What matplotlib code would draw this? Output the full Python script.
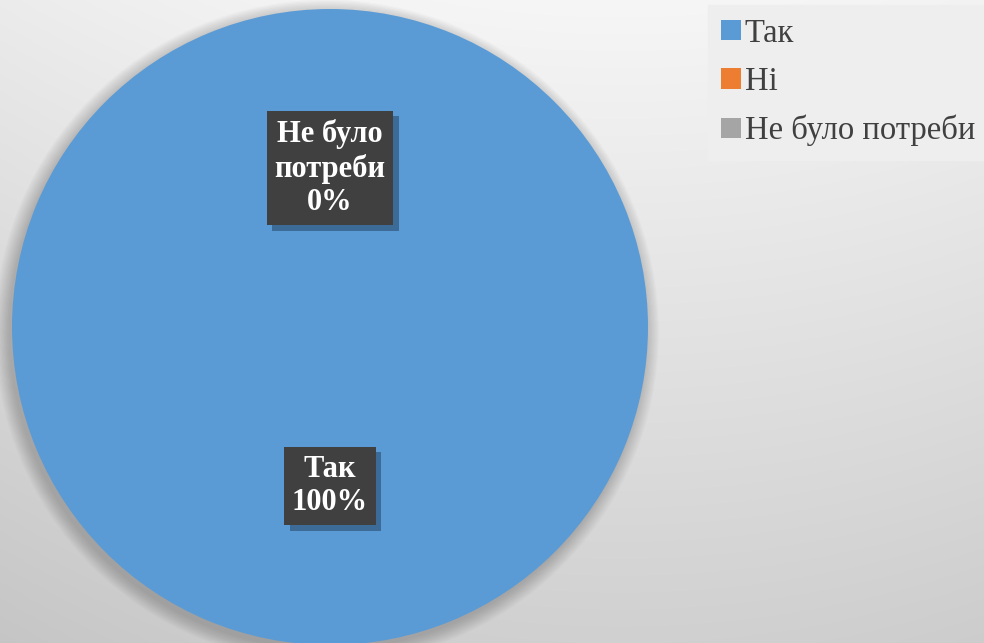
import numpy as np
import matplotlib as mpl
import matplotlib.pyplot as plt
import matplotlib.patheffects as pe
from matplotlib.patches import Circle

mpl.rcParams['font.family'] = ['Liberation Serif', 'DejaVu Serif']

categories = ['Так', 'Ні', 'Не було потреби']
values = [100, 0, 0]
colors = ['#5B9BD5', '#ED7D31', '#A5A5A5']
shown_labels = ['Так', 'Не було потреби']

fig = plt.figure(figsize=(9.84, 6.43), dpi=100)

# background gradient (light at top, darker to the bottom corners)
bg = fig.add_axes([0, 0, 1, 1])
W, H = 984, 643
xx, yy = np.meshgrid(np.arange(W), np.arange(H))
shade = 0xf6 - 38 * (yy / H) - 10 * ((xx - 620) / 600) ** 2
img = np.clip(shade, 0, 255) / 255.0
bg.imshow(np.dstack([img, img, img]), aspect='auto', extent=[0, 1, 0, 1], origin='upper')
bg.set_axis_off()

r = 318
cx, cy = 330, 643 - 327
ax = fig.add_axes([(cx - r) / W, (cy - r) / H, 2 * r / W, 2 * r / H])

# soft shadow under the pie
for k in range(12):
    ax.add_patch(Circle((-0.01, -0.015), 1.0 + k * 0.004, color='#303030',
                        alpha=0.025, lw=0, zorder=0, clip_on=False))

wedges, _ = ax.pie(values, colors=colors, startangle=90, counterclock=False,
                   radius=1.0, wedgeprops=dict(linewidth=0))
for w in wedges:
    w.set_zorder(1)
ax.set_xlim(-1, 1)
ax.set_ylim(-1, 1)
ax.set_aspect('equal')
ax.set_axis_off()

total = sum(values)
for w, name, v in zip(wedges, categories, values):
    if name not in shown_labels:
        continue
    ang = np.deg2rad((w.theta1 + w.theta2) / 2)
    txt = name.replace('Не було ', 'Не було\n') + '\n' + f'{v / total * 100:.0f}%'
    t = ax.text(0.5 * np.cos(ang), 0.5 * np.sin(ang), txt, ha='center', va='center',
                color='white', fontsize=22, fontweight='bold', linespacing=1.22,
                zorder=5,
                bbox=dict(boxstyle='square,pad=0.25', facecolor='#404040',
                          edgecolor='none', linewidth=0))
    t.get_bbox_patch().set_path_effects([
        pe.SimplePatchShadow(offset=(4, -4), shadow_rgbFace='#1e3c5a', alpha=0.5),
        pe.Normal()])

leg = fig.legend(wedges, categories, loc='upper left', bbox_to_anchor=(708 / W, 1 - 5 / H),
                 frameon=True, fancybox=False, facecolor='#eeeeee', edgecolor='#eeeeee',
                 framealpha=1, fontsize=23.5, handlelength=0.6, handleheight=0.6,
                 handletextpad=0.12, labelspacing=0.55, borderpad=0.4,
                 borderaxespad=0)
for t in leg.get_texts():
    t.set_color('#404040')

fig.savefig('out.png', dpi=100)
